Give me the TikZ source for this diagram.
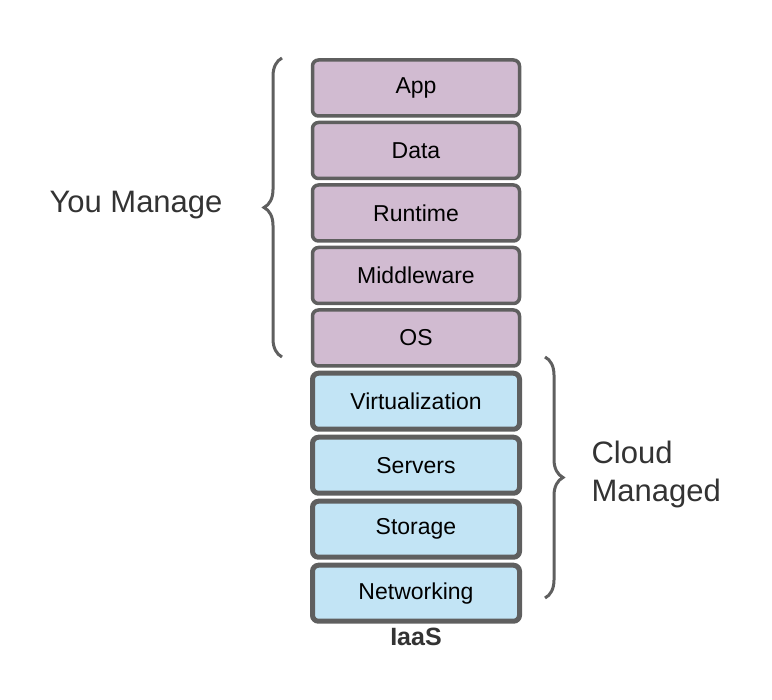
\documentclass[tikz,border=0pt]{standalone}
\usepackage{fontspec}
\setmainfont{Liberation Sans}
\usetikzlibrary{positioning, decorations.pathreplacing}
\definecolor{mine}{HTML}{D1BBD1}
\definecolor{cloud}{HTML}{C2E4F5}
\definecolor{edge}{HTML}{5F5F5F}
\definecolor{ink}{HTML}{333333}

\begin{document}
\begin{tikzpicture}[x=1pt, y=-1pt,
node distance=3pt,
layer/.style={draw=edge,
rectangle,
rounded corners=6pt,
minimum width=207pt,
minimum height=56pt,
font=\fontsize{23}{26}\selectfont,
align=center},
own/.style={layer, fill=mine, line width=3.5pt},
cloudy/.style={layer, fill=cloud, line width=5pt},
brace/.style={draw=edge, line width=3pt, decorate,
decoration={brace, amplitude=18pt}},
side/.style={text=ink, font=\fontsize{31}{38}\selectfont, align=left}
]
\useasboundingbox (0,0) rectangle (772,700);

\node[own] (app) at (416,88) {App};
\node[own, below=of app] (data) {Data};
\node[own, below=of data] (runtime) {Runtime};
\node[own, below=of runtime] (middleware) {Middleware};
\node[own, below=of middleware] (os) {OS};
\node[cloudy, below=of os] (virt) {Virtualization};
\node[cloudy, below=of virt] (servers) {Servers};
\node[cloudy, below=of servers] (storage) {Storage};
\node[cloudy, below=of storage] (net) {Networking};

\node[font=\fontsize{25}{30}\selectfont\bfseries, text=ink] (iaas) at (416,637) {IaaS};

\coordinate (mtop) at (282,58);
\coordinate (mbot) at (282,357);
\coordinate (ctop) at (545,357);
\coordinate (cbot) at (545,598);
\draw[brace] (mbot) -- (mtop);
\draw[brace] (ctop) -- (cbot);

\node[side, anchor=east] (you) at (226,205) {You Manage};
\node[side, anchor=west] (cm) at (588,474) {Cloud\\Managed};
\end{tikzpicture}
\end{document}
